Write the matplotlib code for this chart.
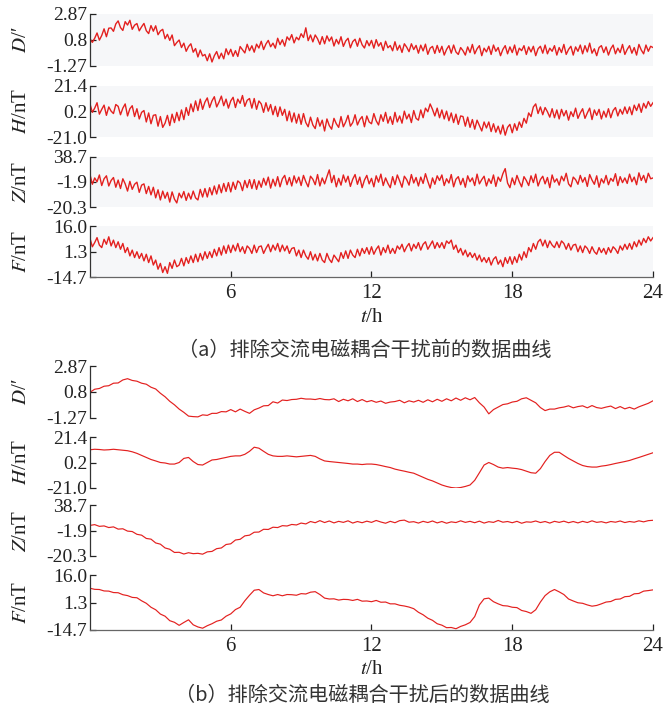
import numpy as np
import matplotlib
matplotlib.use("Agg")
import matplotlib.pyplot as plt

# ---------------- data ----------------
# (a) before removing AC electromagnetic coupling interference, 0.1 h step
D_a = [0.89, 0.61, 0.94, 1.36, 0.79, 1.16, 1.69, 1.06, 1.74, 1.76,
       1.49, 2.08, 2.32, 1.79, 1.56, 2.26, 1.99, 2.37, 1.65, 1.98,
       2.11, 1.53, 1.85, 2.12, 1.54, 1.31, 1.95, 1.50, 1.93, 1.22,
       1.52, 1.65, 0.90, 1.25, 0.77, 1.20, 0.35, 0.60, 0.80, 0.20,
       0.55, -0.10, 0.28, 0.50, -0.17, 0.12, -0.55, 0.00, -0.47, -0.35,
       -0.85, -0.30, -0.95, -0.45, -0.12, -0.69, -0.25, -0.70, 0.10, -0.37,
       0.06, -0.50, -0.05, -0.51, 0.28, 0.02, -0.23, 0.46, -0.05, 0.34,
       -0.17, 0.47, 0.16, 0.70, 0.04, 0.48, 0.77, 0.26, 0.55, 0.15,
       0.94, 0.43, 0.82, 0.31, 1.05, 0.79, 1.23, 0.57, 1.02, 0.81,
       1.30, 1.00, 1.77, 0.75, 1.20, 0.65, 1.20, 0.90, 0.45, 1.07,
       0.50, 1.13, 0.71, 1.04, 0.32, 0.85, 0.48, 1.06, 0.29, 0.72,
       0.94, 0.18, 0.67, 0.86, 0.30, 0.94, 0.42, 0.16, 0.75, 0.34,
       0.77, 0.15, 0.83, 0.31, 0.59, -0.03, 0.70, 0.18, 0.36, -0.06,
       0.66, -0.01, 0.38, -0.19, 0.50, 0.23, -0.13, 0.50, 0.04, 0.37,
       -0.25, 0.39, -0.07, 0.47, -0.34, 0.15, 0.29, -0.27, 0.37, -0.19,
       0.30, -0.40, 0.05, 0.35, -0.25, 0.40, -0.15, -0.35, 0.20, -0.05,
       -0.40, 0.25, -0.20, 0.45, -0.30, 0.10, 0.35, -0.45, 0.15, -0.15,
       0.30, -0.35, 0.40, -0.10, 0.20, -0.45, 0.05, 0.35, -0.30, 0.25,
       -0.20, 0.40, -0.40, 0.15, -0.05, 0.35, -0.35, 0.25, -0.15, 0.30,
       -0.45, 0.10, 0.30, -0.25, 0.40, -0.30, 0.15, -0.10, 0.35, -0.40,
       0.20, -0.20, 0.45, -0.35, 0.05, 0.30, -0.40, 0.25, -0.10, 0.40,
       -0.30, 0.35, -0.15, 0.55, -0.25, 0.10, -0.45, 0.20, 0.35, -0.20,
       0.25, -0.40, 0.10, 0.40, -0.30, 0.15, -0.20, 0.45, -0.35, 0.05,
       0.35, -0.25, 0.20, -0.40, 0.45, 0.00, -0.30, 0.40, -0.10, 0.30,
       0.20]

H_a = [6.5, -0.5, 3.0, 7.5, -2.0, 2.0, 5.5, -3.0, 4.0, 0.5,
       -1.5, 6.0, 4.5, -2.5, 3.0, 6.5, -3.5, 2.5, 5.0, -4.0,
       2.5, -6.0, -0.5, 1.0, -8.5, -1.0, -10.0, -3.0, -2.5, -12.0,
       -4.0, -13.0, -9.5, -3.0, -11.5, -2.0, -9.0, -0.5, -7.5, 1.5,
       -6.5, 3.5, -3.0, 6.5, 0.0, 9.0, 1.0, 10.5, 2.0, 8.0,
       11.5, 3.5, 9.0, 12.5, 4.0, 8.0, 13.0, 5.0, 10.5, 3.0,
       9.0, 12.0, 3.5, 10.5, 7.0, 13.5, 4.5, 9.5, 11.0, 3.0,
       11.0, 2.0, 9.0, 6.5, -0.5, 7.5, 0.5, 6.0, -2.5, 4.5,
       -4.0, 4.0, -3.0, 2.0, -7.5, 0.5, -8.5, -1.0, -9.5, -2.0,
       -10.5, -1.5, -9.0, -12.5, -4.5, -11.0, -14.0, -5.0, -12.0, -7.0,
       -16.0, -6.0, -11.5, -14.5, -5.5, -10.0, -13.0, -4.0, -12.5, -8.5,
       -3.0, -12.0, -9.0, -2.5, -11.0, -6.5, -4.0, -12.5, -3.5, -8.5,
       -10.0, -1.5, -7.5, -11.0, -2.5, -8.0, -0.5, -9.5, -4.0, -10.5,
       -0.5, -8.5, -3.5, -9.5, 0.5, -6.0, -2.0, -9.0, 1.0, -5.5,
       -7.0, 1.5, -5.0, 3.0, 0.0, 6.5, 2.0, -3.5, 3.0, -5.0,
       1.5, -6.0, 0.5, -7.5, -1.0, -9.0, -2.0, -10.5, -3.5, -4.0,
       -12.0, -4.5, -13.0, -6.5, -14.5, -7.0, -11.5, -16.0, -8.5, -13.5,
       -8.5, -16.5, -10.0, -17.0, -12.0, -18.5, -11.0, -19.5, -13.0, -10.5,
       -17.5, -10.0, -15.5, -8.5, -13.0, -5.5, -9.5, -1.0, -4.0, 4.0,
       6.5, -1.5, 4.0, -2.5, 3.5, 0.0, -4.5, 2.5, -5.0, 1.5,
       -6.0, 2.0, -3.5, 1.0, -7.0, 0.0, -4.0, 3.0, -5.5, -1.0,
       2.5, -5.5, -1.0, 3.0, -6.5, 1.5, -3.0, 2.0, -6.0, 0.5,
       -4.5, 2.5, -5.0, 1.0, 3.5, -3.5, 2.0, -2.0, 4.0, -1.5,
       4.0, -2.5, 5.5, 1.0, 6.5, -0.5, 7.0, 3.0, 8.5, 4.5,
       7.5]

Z_a = [18.0, 6.5, 14.0, 9.5, 17.5, 5.0, 13.0, 16.5, 4.5, 11.0,
       14.5, 3.0, 11.5, 1.5, 13.0, 7.0, -1.5, 10.0, 0.5, 6.5,
       9.0, -3.0, 5.5, 7.0, -4.5, 4.0, -6.0, 3.0, -9.5, 0.0,
       -12.0, -1.5, -10.0, -3.0, -14.5, -2.5, -11.0, -15.5, -4.0, -9.5,
       -2.0, -12.5, -4.0, -11.0, -1.5, -9.5, -12.0, 0.5, -8.5, 1.5,
       -8.5, 2.5, -6.0, 4.5, -5.0, 6.0, -3.5, 7.5, -2.0, 8.5,
       -2.5, 9.0, 0.5, 10.5, 8.0, -1.0, 11.0, 2.5, 12.0, 1.5,
       12.0, 0.5, 10.5, 3.0, 13.5, 5.5, 15.0, 2.0, 12.5, 4.5,
       15.5, 3.5, 13.0, 17.0, 6.0, 14.5, 4.5, 16.5, 8.0, 15.0,
       5.0, 17.0, 9.5, 3.5, 16.0, 12.5, 6.0, 18.0, 4.5, 14.0,
       7.0, 15.5, 23.5, 8.5, 17.0, 3.5, 13.5, 5.5, 17.5, 9.0,
       16.0, 4.0, 12.5, 18.0, 6.5, 15.0, 2.5, 11.5, 17.0, 7.0,
       13.5, 3.5, 16.5, 9.0, 18.5, 5.0, 14.0, 7.5, 2.5, 15.5,
       6.0, 17.5, 10.5, 3.0, 16.0, 12.0, 5.5, 18.0, 8.0, 14.5,
       4.5, 15.0, 7.5, 19.0, 10.0, 2.0, 14.0, 6.5, 16.5, 11.0,
       17.5, 5.0, 13.0, 8.0, 18.0, 3.5, 12.5, 15.5, 6.0, 13.5,
       3.0, 16.5, 9.5, 14.0, 5.0, 18.5, 7.0, 12.0, 16.0, 4.5,
       13.0, 7.5, 17.5, 4.0, 15.0, 10.0, 19.0, 25.0, 8.0, 2.5,
       14.0, 6.0, 17.0, 9.5, 3.5, 15.5, 11.0, 5.0, 16.5, 8.5,
       18.5, 4.5, 12.0, 16.0, 7.0, 14.5, 2.5, 17.5, 9.0, 13.0,
       5.5, 16.0, 10.5, 19.5, 7.0, 3.5, 15.0, 12.0, 6.5, 17.0,
       9.0, 14.5, 4.0, 18.0, 11.5, 6.5, 16.5, 3.0, 13.0, 8.0,
       17.0, 6.0, 13.5, 10.0, 19.0, 5.0, 15.5, 8.5, 14.0, 7.5,
       18.5, 9.5, 15.0, 6.0, 20.0, 11.0, 17.0, 8.5, 19.5, 13.0,
       14.0]

F_a = [8.5, 3.5, 6.0, 9.0, 4.5, 3.0, 8.0, 5.0, 9.5, 4.0,
       7.5, 3.0, 6.5, 2.0, 5.5, 0.0, 3.0, -2.0, 1.5, -3.0,
       0.5, -3.5, -0.5, -5.0, -1.0, -6.0, -2.0, -7.5, -4.5, -10.0,
       -6.5, -12.0, -8.5, -12.5, -6.0, -9.5, -4.5, -8.5, -7.5, -3.5,
       -8.0, -3.0, -6.5, -2.0, -6.0, -1.0, -5.5, -0.5, -4.5, 0.5,
       -3.5, 0.5, -3.0, 2.0, -2.0, 3.0, -1.5, 4.0, -0.5, 4.5,
       0.0, 4.5, 1.0, 5.5, 0.5, 3.5, -0.5, 4.0, 2.5, -0.5,
       4.5, 0.0, 3.5, 4.0, -0.5, 2.5, 5.0, 0.5, 4.5, 1.5,
       5.5, 0.5, 4.5, 1.0, 4.0, -0.5, 2.5, 3.0, -2.0, 1.5,
       -3.0, 1.5, -2.0, -4.0, 0.5, -4.5, -1.0, -5.0, -0.5, -4.5,
       -6.0, -0.5, -4.0, -6.0, -1.5, -3.5, -5.5, 0.0, -3.5, 1.0,
       -3.5, 1.5, -1.5, -3.0, 2.0, -2.0, 2.5, -0.5, 3.0, -1.0,
       3.5, -1.0, 2.0, 4.0, -1.5, 3.0, 0.0, 4.5, -0.5, 2.5,
       -0.5, 4.0, 2.0, 5.0, 0.5, 3.5, 5.5, 1.0, 5.0, 2.5,
       6.0, 1.5, 5.0, 6.5, 2.0, 4.5, 7.0, 2.5, 6.0, 3.0,
       6.0, 2.5, 7.0, 5.5, 7.5, 2.0, 4.5, 0.0, 2.5, -1.5,
       1.5, -2.5, 0.0, -3.0, -0.5, -4.5, -1.5, -5.5, -3.0, -6.0,
       -3.0, -7.5, -4.0, -2.5, -7.0, -4.5, -8.5, -3.0, -6.5, -2.5,
       -7.0, -2.5, -6.0, -1.0, -4.5, 0.5, -3.0, 3.0, 0.5, 5.5,
       2.0, 6.5, 8.0, 4.0, 7.5, 3.0, 7.0, 4.5, 3.0, 6.5,
       3.0, 7.0, 5.5, 2.0, 5.5, 1.5, 4.5, 5.0, 0.5, 4.0,
       0.0, 4.0, 2.5, -0.5, 3.5, 0.5, -1.0, 3.0, 0.0, 2.5,
       -1.0, 3.0, 0.0, 3.5, 2.0, -0.5, 4.0, 1.5, 5.0, 2.0,
       5.5, 2.0, 6.5, 3.5, 7.5, 4.5, 8.5, 6.0, 9.5, 7.0,
       9.0]

# (b) after removing the interference, 0.2 h step
D_b = [0.78, 1.02, 1.08, 1.26, 1.30,
       1.50, 1.52, 1.76, 1.86, 1.72,
       1.66, 1.50, 1.42, 1.18, 1.04,
       0.70, 0.42, 0.06, -0.22, -0.56,
       -0.82, -1.12, -1.16, -1.18, -1.02,
       -1.06, -0.90, -0.90, -0.76, -0.78,
       -0.60, -0.78, -0.56, -0.74, -0.90,
       -0.62, -0.48, -0.30, -0.28, 0.02,
       -0.08, 0.16, 0.12, 0.20, 0.22,
       0.30, 0.24, 0.24, 0.20, 0.28,
       0.20, 0.18, 0.26, 0.04, 0.22,
       0.10, 0.26, 0.04, 0.20, 0.02,
       0.12, -0.02, 0.08, -0.10, 0.00,
       0.04, 0.14, -0.06, 0.10, 0.00,
       0.14, -0.02, 0.18, 0.02, 0.22,
       0.06, 0.26, 0.10, 0.32, 0.14,
       0.34, 0.18, 0.36, -0.06, -0.40,
       -0.94, -0.60, -0.40, -0.20, -0.14,
       0.00, 0.06, 0.26, 0.34, 0.14,
       -0.06, -0.44, -0.68, -0.56, -0.56,
       -0.46, -0.40, -0.30, -0.46, -0.36,
       -0.30, -0.46, -0.28, -0.44, -0.50,
       -0.40, -0.32, -0.52, -0.36, -0.54,
       -0.42, -0.56, -0.38, -0.24, -0.10,
       0.10]

H_b = [10.8, 11.2, 11.0, 10.6, 10.8,
       11.2, 10.8, 10.4, 10.0, 9.1,
       7.8, 6.1, 4.4, 2.7, 1.5,
       0.2, -0.2, -1.1, -1.1, 0.2,
       3.6, 4.4, 1.0, -1.5, -1.9,
       0.2, 2.3, 2.7, 3.6, 4.4,
       5.3, 5.7, 5.7, 7.0, 9.5,
       12.9, 12.1, 9.5, 7.0, 5.7,
       5.3, 5.3, 5.7, 5.3, 4.9,
       5.3, 5.7, 6.1, 5.3, 3.2,
       1.5, 1.0, 0.6, 0.2, -0.2,
       -0.6, -1.1, -1.1, -1.5, -1.1,
       -1.1, -1.5, -2.3, -3.2, -4.0,
       -5.3, -6.2, -7.0, -7.9, -8.7,
       -10.4, -12.1, -13.8, -15.1, -16.8,
       -18.5, -19.7, -20.6, -21.0, -20.6,
       -19.7, -18.5, -14.6, -8.3, -1.9,
       0.2, -1.5, -3.6, -4.5, -4.0,
       -4.5, -4.9, -5.7, -7.0, -8.3,
       -8.7, -4.9, 1.0, 6.1, 8.7,
       8.7, 6.1, 3.6, 1.5, -0.6,
       -2.3, -3.2, -3.6, -3.6, -2.8,
       -2.3, -1.5, -0.6, 0.2, 1.0,
       1.9, 3.2, 4.4, 5.7, 7.0,
       8.3]

Z_b = [15.1, 16.0, 14.0, 14.5, 12.6,
       13.4, 10.8, 11.2, 8.5, 8.0,
       4.8, 3.8, 0.0, -0.8, -5.2,
       -6.6, -11.0, -12.5, -16.2, -16.0,
       -18.0, -16.5, -17.6, -17.2, -18.2,
       -15.5, -15.0, -11.8, -11.0, -7.0,
       -6.2, -1.8, -1.0, 3.0, 3.8,
       7.2, 7.4, 10.6, 10.4, 13.0,
       12.6, 14.8, 14.4, 16.2, 15.6,
       17.8, 16.8, 19.6, 18.2, 20.6,
       18.4, 20.2, 18.0, 19.8, 18.6,
       20.4, 17.8, 19.6, 18.2, 20.0,
       18.6, 20.8, 19.0, 17.6, 19.8,
       18.2, 20.6, 21.2, 18.8, 19.4,
       17.8, 19.8, 18.4, 20.2, 18.0,
       19.6, 17.6, 19.2, 18.4, 20.4,
       18.6, 19.8, 18.2, 20.0, 17.8,
       19.4, 18.6, 20.8, 18.8, 19.6,
       18.2, 19.8, 17.6, 19.2, 18.8,
       20.2, 18.4, 19.6, 17.8, 19.8,
       18.6, 20.0, 18.2, 19.6, 18.0,
       19.8, 18.4, 20.4, 18.6, 19.4,
       18.0, 19.6, 18.8, 20.2, 18.4,
       19.6, 18.8, 20.4, 19.2, 20.6,
       21.0]

F_b = [8.6, 8.0, 7.9, 7.1, 7.0,
       6.2, 6.1, 5.0, 4.5, 3.5,
       3.3, 1.6, 0.2, -2.0, -3.4,
       -5.8, -7.0, -9.5, -10.4, -12.1,
       -10.5, -9.0, -11.8, -13.0, -13.7,
       -12.3, -11.2, -9.8, -9.1, -7.0,
       -5.7, -3.3, -2.0, 1.6, 4.7,
       7.5, 7.9, 6.0, 5.1, 4.4,
       5.1, 4.4, 5.1, 5.0, 4.7,
       5.6, 5.4, 6.4, 6.7, 5.1,
       3.1, 2.6, 2.7, 2.0, 2.4,
       2.3, 1.8, 2.4, 1.4, 1.5,
       1.1, 1.8, 0.8, 0.9, -0.1,
       -0.1, -0.9, -1.3, -1.9, -2.8,
       -4.8, -6.2, -8.1, -9.3, -11.2,
       -12.0, -13.4, -13.3, -14.0, -12.7,
       -11.8, -10.5, -7.2, -0.7, 2.7,
       3.1, 1.1, -0.1, -1.1, -1.3,
       -2.0, -2.2, -3.8, -4.4, -5.4,
       -3.4, 0.9, 4.5, 6.6, 7.9,
       6.6, 5.1, 2.6, 1.5, 0.5,
       0.2, -0.7, -1.4, -1.0, -0.1,
       0.9, 1.2, 2.4, 2.6, 3.9,
       4.1, 5.5, 5.7, 7.0, 7.3,
       7.7]

# axis ranges and tick labels (bottom, middle, top)
D_ticks = ["-1.27", "0.8", "2.87"]
H_ticks = ["-21.0", "0.2", "21.4"]
Z_ticks = ["-20.3", "-1.9", "38.7"]
F_ticks = ["-14.7", "1.3", "16.0"]
D_lim = (-1.27, 2.87)
H_lim = (-21.0, 21.4)
Z_lim = (-20.3, 38.7)
F_lim = (-14.7, 16.0)
x_ticks = [6, 12, 18, 24]

# ---------------- drawing ----------------
plt.rcParams["font.family"] = ["Liberation Serif", "DejaVu Serif"]
plt.rcParams["mathtext.fontset"] = "stix"

W, H = 670, 713
fig = plt.figure(figsize=(W / 100, H / 100), dpi=100)
fig.patch.set_facecolor("white")

RED = "#e3201f"
TXT = "#222222"
left_px, right_px = 90, 653

def fig_rect(top_px, bot_px):
    return [left_px / W, 1 - bot_px / H, (right_px - left_px) / W, (bot_px - top_px) / H]

panel_a = [(14, 66, D_a, D_lim, D_ticks, r"$D$/′"),
           (86, 137, H_a, H_lim, H_ticks, r"$H$/nT"),
           (157, 207, Z_a, Z_lim, Z_ticks, r"$Z$/nT"),
           (226, 277, F_a, F_lim, F_ticks, r"$F$/nT")]
panel_b = [(366, 418, D_b, D_lim, D_ticks, r"$D$/′"),
           (437, 488, H_b, H_lim, H_ticks, r"$H$/nT"),
           (505, 556, Z_b, Z_lim, Z_ticks, r"$Z$/nT"),
           (575, 630, F_b, F_lim, F_ticks, r"$F$/nT")]

def draw_panel(spec, face, lw):
    for i, (top, bot, series, lim, labels, ylab) in enumerate(spec):
        ax = fig.add_axes(fig_rect(top, bot))
        ax.set_facecolor(face)
        t = np.linspace(0, 24, len(series))
        ax.plot(t, series, color=RED, lw=lw)
        ax.set_xlim(0, 24)
        ax.set_ylim(*lim)
        mid = (lim[0] + lim[1]) / 2
        ax.set_yticks([lim[0], mid, lim[1]])
        ax.set_yticklabels(labels)
        ax.tick_params(axis="y", direction="in", length=4, width=0.9,
                       labelsize=14, pad=2, colors=TXT)
        for s in ["top", "right"]:
            ax.spines[s].set_visible(False)
        ax.spines["left"].set_color("#333333")
        ax.spines["left"].set_linewidth(0.9)
        ax.set_ylabel(ylab, fontsize=15, color=TXT)
        ax.yaxis.set_label_coords(-0.105, 0.5)
        if i < len(spec) - 1:
            ax.spines["bottom"].set_visible(False)
            ax.set_xticks([])
        else:
            ax.spines["bottom"].set_color("#666666")
            ax.spines["bottom"].set_linewidth(0.9)
            ax.set_xticks(x_ticks)
            ax.set_xticklabels([str(v) for v in x_ticks])
            ax.tick_params(axis="x", direction="in", length=4, width=0.9,
                           labelsize=15, pad=5, colors=TXT)

draw_panel(panel_a, "#f6f7f9", 1.0)
draw_panel(panel_b, "white", 0.85)

fig.text(372 / W, 1 - 317 / H, r"$t$/h", ha="center", va="center", fontsize=15, color=TXT)
fig.text(372 / W, 1 - 670 / H, r"$t$/h", ha="center", va="center", fontsize=15, color=TXT)

cjk = ["Noto Sans CJK SC", "DejaVu Sans"]
fig.text(365 / W, 1 - 350 / H, "（a）排除交流电磁耦合干扰前的数据曲线", ha="center", va="center",
         fontsize=14.5, family=cjk, fontweight="light", color="#333333")
fig.text(362 / W, 1 - 695 / H, "（b）排除交流电磁耦合干扰后的数据曲线", ha="center", va="center",
         fontsize=14.5, family=cjk, fontweight="light", color="#333333")

fig.savefig("out.png", dpi=100, facecolor="white")
